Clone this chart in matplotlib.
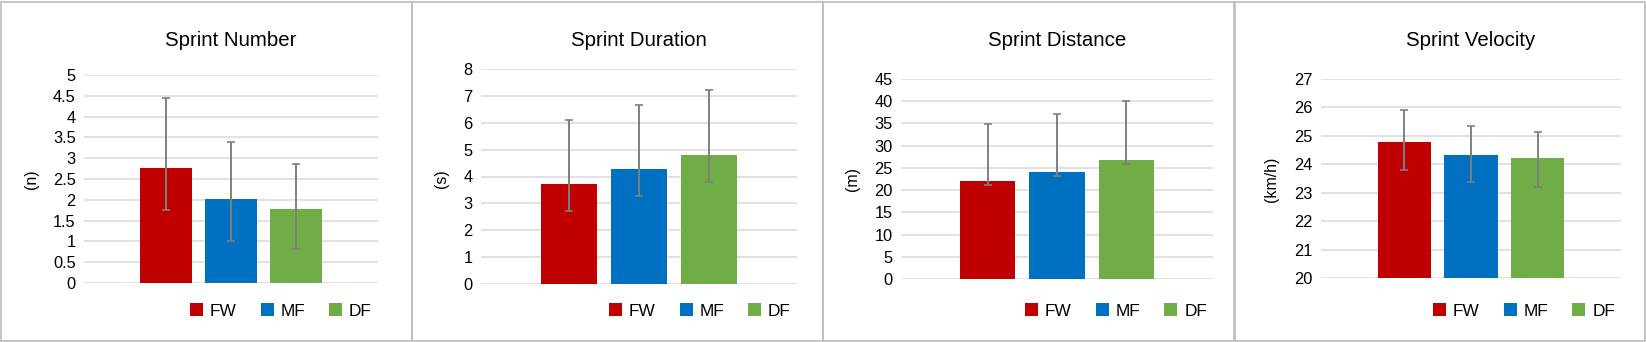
import numpy as np
import matplotlib
matplotlib.use("Agg")
import matplotlib.pyplot as plt
from matplotlib.patches import Rectangle, Patch
from matplotlib.ticker import FuncFormatter

plt.rcParams['font.family'] = ['Liberation Sans', 'DejaVu Sans']

groups = ['FW', 'MF', 'DF']
colors = ['#c00000', '#0070c0', '#70ad47']

titles = ['Sprint Number', 'Sprint Duration', 'Sprint Distance', 'Sprint Velocity']
units = ['(n)', '(s)', '(m)', '(km/h)']

number_mean = [2.76, 2.02, 1.79]
number_up = [1.68, 1.36, 1.07]
number_low = [1.0, 1.0, 0.98]

duration_mean = [3.73, 4.28, 4.79]
duration_up = [2.37, 2.38, 2.43]
duration_low = [1.0, 1.0, 1.0]

distance_mean = [21.94, 24.04, 26.82]
distance_up = [12.92, 13.06, 13.23]
distance_low = [0.8, 0.85, 0.97]

velocity_mean = [24.78, 24.33, 24.22]
velocity_up = [1.12, 1.00, 0.91]
velocity_low = [0.97, 0.97, 1.01]

y_limits = [(0, 5), (0, 8), (0, 45), (20, 27)]
y_steps = [0.5, 1, 5, 1]

W, H = 1646, 342
fig = plt.figure(figsize=(W / 100, H / 100), dpi=100)

# panel frames and plot areas, in pixels (left, right, top, bottom)
frames = [(1, 412), (412, 823), (823, 1234), (1235, 1645)]
areas = [(84, 378, 75, 283), (481, 797, 69, 284), (901, 1213, 79, 279), (1321, 1621, 79, 278)]
ylabel_x = [32, 442, 853, 1272]

data = [
    (number_mean, number_low, number_up),
    (duration_mean, duration_low, duration_up),
    (distance_mean, distance_low, distance_up),
    (velocity_mean, velocity_low, velocity_up),
]

for i in range(4):
    fl, fr = frames[i]
    fig.patches.append(Rectangle((fl / W, 1.5 / H), (fr - fl) / W, (H - 3) / H,
                                 transform=fig.transFigure, fill=False,
                                 edgecolor='#bfbfbf', linewidth=1.3))

    l, r, t, b = areas[i]
    ax = fig.add_axes([l / W, 1 - b / H, (r - l) / W, (b - t) / H])
    mean, low, up = data[i]
    x = np.arange(len(groups))
    base = y_limits[i][0]
    ax.bar(x, np.array(mean) - base, bottom=base, width=0.8, color=colors, zorder=2)
    ax.errorbar(x, mean, yerr=[low, up], fmt='none', ecolor='#7f7f7f',
                elinewidth=1.4, capsize=2.6, capthick=1.2, zorder=3)

    ax.set_xlim(-1.25, 3.25)
    ax.set_ylim(*y_limits[i])
    ax.set_yticks(np.arange(y_limits[i][0], y_limits[i][1] + 1e-9, y_steps[i]))
    ax.yaxis.set_major_formatter(FuncFormatter(lambda v, p: '%g' % v))
    ax.set_xticks([])
    ax.tick_params(axis='y', length=0, pad=6, labelsize=11.8, labelcolor='black')
    ax.grid(axis='y', color='#d9d9d9', linewidth=1.1, zorder=0)
    ax.set_axisbelow(True)
    for s in ax.spines.values():
        s.set_visible(False)

    fig.text((l + r) / 2 / W, 1 - 40 / H, titles[i], ha='center', va='center',
             fontsize=14.7, color='black')
    fig.text(ylabel_x[i] / W, 1 - 179 / H, units[i], rotation=90, ha='center',
             va='center', fontsize=11.4, color='black')

    handles = [Patch(facecolor=c, edgecolor='none') for c in colors]
    ax.legend(handles, groups, ncol=3, frameon=False, loc='center right',
              bbox_to_anchor=((r - 6) / W, 1 - 311 / H),
              bbox_transform=fig.transFigure, fontsize=12.4,
              handlelength=0.75, handleheight=0.75, handletextpad=0.4,
              columnspacing=1.4, borderpad=0, borderaxespad=0)

fig.savefig('out.png', dpi=100, facecolor='white')
